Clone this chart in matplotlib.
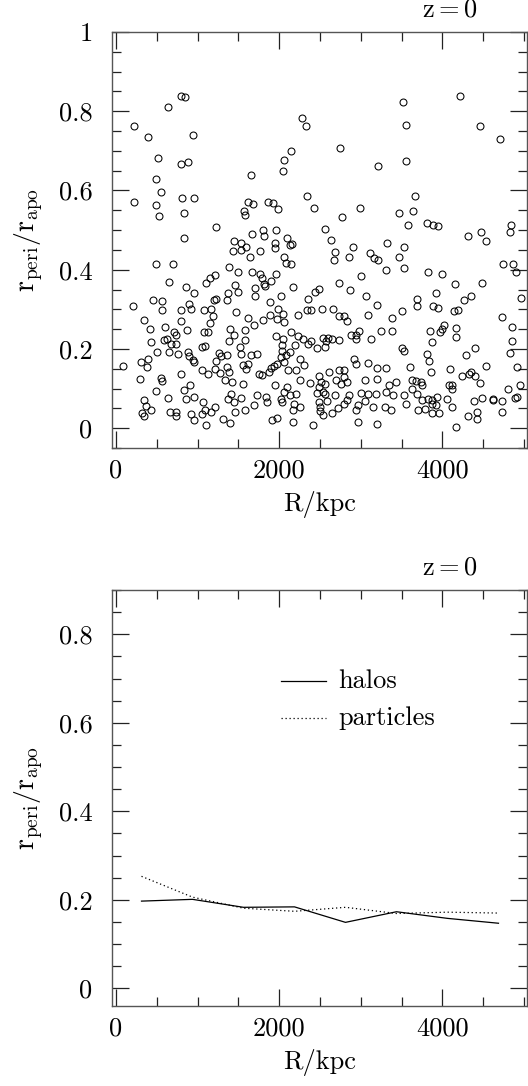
import numpy as np
import matplotlib.pyplot as plt
from matplotlib.ticker import MultipleLocator, FixedLocator, FixedFormatter

plt.rcParams['font.family'] = 'serif'
plt.rcParams['font.serif'] = ['cmr10', 'DejaVu Serif']
plt.rcParams['mathtext.fontset'] = 'cm'
plt.rcParams['axes.formatter.use_mathtext'] = True

# (R [kpc], r_peri/r_apo) for each halo at z=0
halo_orbits = [
    (641, 0.810), (792, 0.839), (845, 0.835), (2278, 0.782), (3523, 0.823), (4213, 0.839),
    (216, 0.762), (2327, 0.764), (3551, 0.766), (4462, 0.762), (388, 0.734), (939, 0.739), (4707, 0.731),
    (2747, 0.708), (2139, 0.699), (518, 0.683), (2061, 0.677), (800, 0.666), (886, 0.673), (3559, 0.674),
    (3217, 0.662), (2049, 0.650), (1657, 0.638), (494, 0.630), (547, 0.597), (224, 0.570), (486, 0.563),
    (804, 0.580), (951, 0.582), (527, 0.535), (837, 0.542), (2343, 0.587), (3662, 0.585), (1612, 0.572),
    (1678, 0.565), (1865, 0.572), (1923, 0.568), (1988, 0.554), (1567, 0.549), (1576, 0.538), (2421, 0.556),
    (2996, 0.557), (3474, 0.542), (3641, 0.549), (2772, 0.533), (3584, 0.512), (3817, 0.518), (3886, 0.512),
    (3943, 0.510), (4837, 0.512), (1225, 0.508),
    (1804, 0.500), (1955, 0.501), (1669, 0.491), (1812, 0.485), (829, 0.479), (1441, 0.473), (1535, 0.468),
    (1592, 0.457), (1437, 0.447), (1535, 0.449), (1637, 0.432), (1759, 0.447), (1943, 0.468), (1943, 0.456),
    (2090, 0.479), (2131, 0.462), (2155, 0.466), (2061, 0.432), (2078, 0.417), (2139, 0.414), (486, 0.415),
    (694, 0.414), (1380, 0.407), (1498, 0.394), (1661, 0.394), (1763, 0.388), (1784, 0.378), (1816, 0.363),
    (1894, 0.372), (1963, 0.388), (1212, 0.386), (1155, 0.378), (1098, 0.367), (645, 0.368),
    (2556, 0.503), (4829, 0.494), (4478, 0.495), (4311, 0.484), (4535, 0.473), (2629, 0.476), (3327, 0.467),
    (2907, 0.457), (3531, 0.457), (2678, 0.445), (3115, 0.442), (3164, 0.430), (3205, 0.424), (3470, 0.432),
    (2674, 0.424), (2854, 0.431), (3311, 0.399), (3531, 0.404), (3825, 0.394), (3992, 0.390), (3005, 0.383),
    (2735, 0.367), (4152, 0.364), (4482, 0.367), (4744, 0.415), (4866, 0.415), (4899, 0.393),
    (853, 0.356), (1453, 0.361), (1698, 0.354), (1821, 0.359), (2168, 0.356), (951, 0.342), (1372, 0.342),
    (1494, 0.345), (1706, 0.334), (2025, 0.333), (2351, 0.325), (2433, 0.345),
    (453, 0.323), (563, 0.320), (563, 0.299), (212, 0.308), (800, 0.299), (894, 0.314), (914, 0.302),
    (1078, 0.298), (1167, 0.300), (1200, 0.323), (1229, 0.327), (1359, 0.323), (1188, 0.283), (1147, 0.266),
    (1465, 0.293), (1612, 0.279), (1686, 0.261), (1800, 0.273), (1882, 0.319), (1882, 0.285), (1980, 0.302),
    (1976, 0.276), (2045, 0.287), (2061, 0.268), (2233, 0.285), (2343, 0.298), (2392, 0.298),
    (343, 0.272), (416, 0.251), (433, 0.218), (596, 0.255), (710, 0.243), (739, 0.234), (620, 0.224),
    (678, 0.213), (739, 0.213), (588, 0.222), (873, 0.247), (506, 0.192), (645, 0.192), (759, 0.188),
    (310, 0.167), (392, 0.174), (376, 0.154), (82, 0.157), (298, 0.123), (555, 0.127), (563, 0.118),
    (792, 0.138), (882, 0.192), (890, 0.182), (947, 0.173), (959, 0.167), (1057, 0.205), (1086, 0.207),
    (1078, 0.243), (1127, 0.243), (1261, 0.191), (1286, 0.182), (1359, 0.184), (1380, 0.221), (1392, 0.251),
    (1445, 0.234), (1514, 0.205), (1535, 0.188), (1576, 0.222), (1576, 0.249), (1649, 0.184), (1555, 0.160),
    (1616, 0.161), (1731, 0.188), (1588, 0.150), (1229, 0.169), (1208, 0.150), (1057, 0.146), (1127, 0.138),
    (1269, 0.140), (1363, 0.154), (1380, 0.143), (1339, 0.121), (1420, 0.116), (1555, 0.112), (1747, 0.138),
    (1788, 0.133), (1870, 0.143), (1902, 0.152), (1935, 0.156), (1976, 0.163), (2017, 0.180), (2037, 0.196),
    (2033, 0.211), (2045, 0.226), (1955, 0.233), (2147, 0.243), (2127, 0.192), (2086, 0.184), (2053, 0.167),
    (2106, 0.146), (2188, 0.211), (2229, 0.233), (2290, 0.226), (2351, 0.213), (2392, 0.219), (2261, 0.174),
    (2310, 0.159), (2208, 0.146), (2261, 0.121), (2372, 0.115),
    (1722, 0.084), (1841, 0.079), (1849, 0.066), (1943, 0.108), (2025, 0.074), (2037, 0.066), (2065, 0.091),
    (2094, 0.104), (2127, 0.083), (2176, 0.062), (2208, 0.087), (2261, 0.053), (2168, 0.045), (2168, 0.015),
    (2412, 0.009), (1910, 0.020), (1972, 0.026), (1686, 0.059), (1576, 0.047), (1535, 0.076), (1453, 0.042),
    (1445, 0.066), (1372, 0.074), (1412, 0.087), (1310, 0.024), (1400, 0.014), (1216, 0.053), (1086, 0.047),
    (1065, 0.066), (1053, 0.036), (1098, 0.009), (1167, 0.041), (955, 0.021), (922, 0.036), (861, 0.074),
    (955, 0.079), (902, 0.110), (833, 0.097), (637, 0.077), (494, 0.093), (347, 0.072), (371, 0.056),
    (322, 0.039), (343, 0.032), (424, 0.045), (661, 0.042), (731, 0.041), (739, 0.031), (792, 0.270),
    (2490, 0.351), (2869, 0.348), (3069, 0.333), (3204, 0.312), (3686, 0.325), (3686, 0.308), (3919, 0.340),
    (3890, 0.308), (3943, 0.303), (4266, 0.323), (4347, 0.334), (4143, 0.295), (4196, 0.299), (4968, 0.329),
    (2522, 0.302), (2661, 0.302), (2727, 0.283), (2796, 0.283), (2825, 0.271), (3094, 0.285), (3502, 0.295),
    (3388, 0.278), (3380, 0.246), (3253, 0.246), (3123, 0.226), (2984, 0.246), (2947, 0.236), (2947, 0.226),
    (2886, 0.234), (2531, 0.228), (2600, 0.228), (2645, 0.224), (2735, 0.222), (2571, 0.220), (2563, 0.205),
    (2469, 0.202), (3972, 0.243), (4000, 0.251), (4021, 0.261), (3849, 0.245), (3878, 0.218), (4163, 0.254),
    (4172, 0.230), (4400, 0.203), (4290, 0.184), (4727, 0.281), (4857, 0.255), (4849, 0.220), (4825, 0.190),
    (4910, 0.155), (4951, 0.110), (4800, 0.100), (4919, 0.079), (4890, 0.077), (4539, 0.157), (4351, 0.143),
    (4327, 0.138), (4245, 0.131), (4400, 0.132), (4466, 0.115), (3808, 0.186), (3837, 0.169), (3857, 0.143),
    (3604, 0.154), (3510, 0.203), (3531, 0.194), (4098, 0.150), (4123, 0.110), (4082, 0.108), (4114, 0.098),
    (4053, 0.074), (4114, 0.053), (4163, 0.003), (4388, 0.068), (4490, 0.077), (4625, 0.074), (4625, 0.070),
    (4727, 0.068), (4727, 0.042), (4421, 0.041), (4425, 0.022), (4314, 0.030), (3633, 0.122), (3674, 0.119),
    (3735, 0.116), (3755, 0.110), (3437, 0.116), (3347, 0.108), (3306, 0.091), (3396, 0.083), (3531, 0.083),
    (3633, 0.100), (3694, 0.087), (3755, 0.070), (3825, 0.073), (3878, 0.070), (3878, 0.062), (3939, 0.079),
    (3927, 0.059), (3706, 0.047), (3788, 0.049), (3870, 0.038), (3959, 0.039), (3551, 0.061), (3367, 0.046),
    (3294, 0.053), (3196, 0.010), (3151, 0.053), (3094, 0.087), (3184, 0.087), (3196, 0.125), (3196, 0.152),
    (3053, 0.121), (3314, 0.152), (3004, 0.090), (3049, 0.068), (2971, 0.058), (2947, 0.045), (2963, 0.015),
    (2857, 0.083), (2837, 0.070), (2796, 0.062), (2718, 0.052), (2645, 0.038), (2531, 0.034), (2498, 0.043),
    (2592, 0.068), (2563, 0.087), (2686, 0.083), (2612, 0.143), (2735, 0.146), (2796, 0.148), (2796, 0.129),
    (2825, 0.116), (2702, 0.121), (2755, 0.112), (2482, 0.132), (2510, 0.116), (2563, 0.112), (2490, 0.104),
    (2469, 0.090), (2539, 0.091), (2482, 0.066), (2498, 0.053), (2918, 0.174), (2939, 0.163), (3094, 0.165),
]

# binned medians
bin_R = [312.5, 937.5, 1562.5, 2187.5, 2812.5, 3437.5, 4062.5, 4687.5]
halos_med = [0.197, 0.201, 0.183, 0.184, 0.149, 0.173, 0.158, 0.147]
particles_med = [0.253, 0.206, 0.181, 0.174, 0.183, 0.169, 0.172, 0.170]

x_ticks = [0, 2000, 4000]
x_labels = ['0', '2000', '4000']
y_ticks_top = [0, 0.2, 0.4, 0.6, 0.8, 1.0]
y_labels_top = ['0', '0.2', '0.4', '0.6', '0.8', '1']
y_ticks_bot = [0, 0.2, 0.4, 0.6, 0.8]
y_labels_bot = ['0', '0.2', '0.4', '0.6', '0.8']

R = np.array([p[0] for p in halo_orbits])
ratio = np.array([p[1] for p in halo_orbits])

W, H = 528, 1086
fig = plt.figure(figsize=(W / 100, H / 100), dpi=100)
ax1 = fig.add_axes([112 / W, 1 - 448 / H, 415 / W, 416 / H])
ax2 = fig.add_axes([112 / W, 1 - 1006 / H, 415 / W, 416 / H])

FS = 19
ylab = r'$\mathrm{r}_{\mathrm{peri}}/\mathrm{r}_{\mathrm{apo}}$'


def style(ax, yticks, ylabels, ylim):
    ax.set_xlim(-49, 5037)
    ax.set_ylim(*ylim)
    ax.xaxis.set_major_locator(FixedLocator(x_ticks))
    ax.xaxis.set_major_formatter(FixedFormatter(x_labels))
    ax.xaxis.set_minor_locator(MultipleLocator(500))
    ax.yaxis.set_major_locator(FixedLocator(yticks))
    ax.yaxis.set_major_formatter(FixedFormatter(ylabels))
    ax.yaxis.set_minor_locator(MultipleLocator(0.05))
    ax.tick_params(which='both', direction='in', top=True, right=True,
                   color='#222222', width=0.9, labelsize=FS)
    ax.tick_params(which='major', length=12.5)
    ax.tick_params(which='minor', length=6.3)
    ax.tick_params(axis='x', pad=8)
    ax.tick_params(axis='y', pad=14)
    for s in ax.spines.values():
        s.set_color('#555555')
        s.set_linewidth(1.0)
    ax.set_xlabel('R/kpc', fontsize=FS, labelpad=6)
    ax.set_ylabel(ylab, fontsize=FS + 1, labelpad=10)
    ax.text(0.88, 1.025, r'$\mathrm{z}=0$', transform=ax.transAxes,
            ha='right', va='bottom', fontsize=FS)


ax1.plot(R, ratio, 'o', mfc='none', mec='black', ms=5.0, mew=0.75)
style(ax1, y_ticks_top, y_labels_top, (-0.05, 1.0))

ax2.plot(bin_R, halos_med, '-', color='black', lw=0.9)
ax2.plot(bin_R, particles_med, color='black', lw=0.9, linestyle=(0, (1, 2.2)))
style(ax2, y_ticks_bot, y_labels_bot, (-0.04, 0.9))

# key
ax2.plot([2020, 2570], [0.695, 0.695], '-', color='black', lw=0.9)
ax2.text(2720, 0.695, 'halos', fontsize=FS, va='center')
ax2.plot([2020, 2570], [0.61, 0.61], color='black', lw=0.9, linestyle=(0, (1, 2.2)))
ax2.text(2720, 0.61, 'particles', fontsize=FS, va='center')

fig.savefig('out.png', dpi=100)
